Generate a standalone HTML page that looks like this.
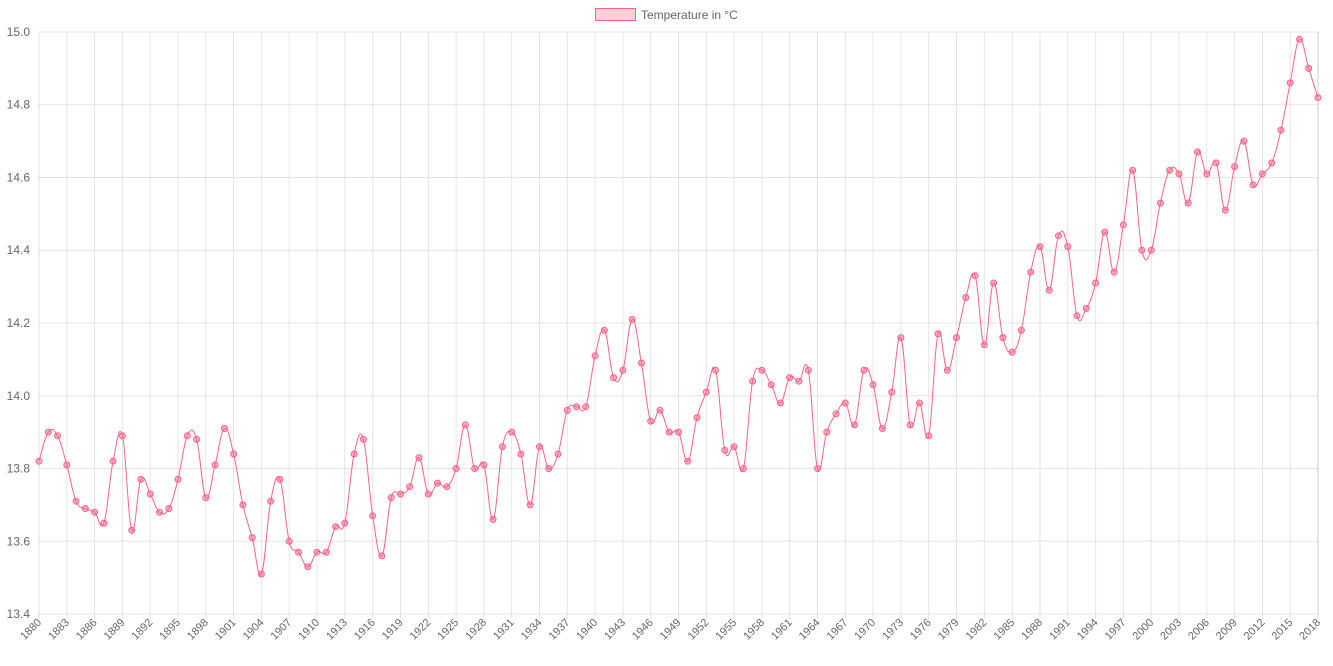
<!DOCTYPE html>
<html><head><meta charset="utf-8"><style>
html,body{margin:0;padding:0;background:#fff;}
svg{display:block;font-family:"Liberation Sans",Arial,sans-serif;}
</style></head><body>
<svg id="c" width="1333" height="666" xmlns="http://www.w3.org/2000/svg"></svg>
<script>
const d=[13.82,13.90,13.89,13.81,13.71,13.69,13.68,13.65,13.82,13.89,13.63,13.77,13.73,13.68,13.69,13.77,13.89,13.88,13.72,13.81,13.91,13.84,13.70,13.61,13.51,13.71,13.77,13.60,13.57,13.53,13.57,13.57,13.64,13.65,13.84,13.88,13.67,13.56,13.72,13.73,13.75,13.83,13.73,13.76,13.75,13.80,13.92,13.80,13.81,13.66,13.86,13.90,13.84,13.70,13.86,13.80,13.84,13.96,13.97,13.97,14.11,14.18,14.05,14.07,14.21,14.09,13.93,13.96,13.90,13.90,13.82,13.94,14.01,14.07,13.85,13.86,13.80,14.04,14.07,14.03,13.98,14.05,14.04,14.07,13.80,13.90,13.95,13.98,13.92,14.07,14.03,13.91,14.01,14.16,13.92,13.98,13.89,14.17,14.07,14.16,14.27,14.33,14.14,14.31,14.16,14.12,14.18,14.34,14.41,14.29,14.44,14.41,14.22,14.24,14.31,14.45,14.34,14.47,14.62,14.40,14.40,14.53,14.62,14.61,14.53,14.67,14.61,14.64,14.51,14.63,14.70,14.58,14.61,14.64,14.73,14.86,14.98,14.90,14.82];
const x0=39,x1=1318,yT=32,yB=614,vMin=13.4,vMax=15.0;
const X=i=>x0+i*(x1-x0)/(d.length-1);
const Y=v=>yB-(v-vMin)/(vMax-vMin)*(yB-yT);
let s='';
for(let k=0;k<=8;k++){const v=13.4+k*0.2,y=Y(v).toFixed(1);
s+=`<line x1="${x0}" x2="${x1}" y1="${y}" y2="${y}" stroke="rgba(0,0,0,0.1)"/>`;
s+=`<text x="${x0-9}" y="${+y+4}" font-size="12" fill="#666" text-anchor="end">${v.toFixed(1)}</text>`;}
for(let i=0;i<d.length;i+=3){const x=X(i).toFixed(1);
s+=`<line x1="${x}" x2="${x}" y1="${yT}" y2="${yB+5}" stroke="rgba(0,0,0,0.1)"/>`;
s+=`<text transform="translate(${+x+3},${yB+9}) rotate(-45)" font-size="11" fill="#666" text-anchor="end">${1880+i}</text>`;}
s+=`<line x1="${x1}" x2="${x1}" y1="${yT}" y2="${yB}" stroke="rgba(0,0,0,0.1)"/>`;
const P=d.map((v,i)=>[X(i),Y(v)]);const t=0.4;
let p=`M${P[0][0]},${P[0][1]}`;
for(let i=0;i<P.length-1;i++){const a=P[Math.max(i-1,0)],b=P[i],c=P[i+1],e=P[Math.min(i+2,P.length-1)];
const c1=[b[0]+(c[0]-a[0])*t/2,b[1]+(c[1]-a[1])*t/2],c2=[c[0]-(e[0]-b[0])*t/2,c[1]-(e[1]-b[1])*t/2];
p+=` C${c1[0].toFixed(1)},${c1[1].toFixed(1)} ${c2[0].toFixed(1)},${c2[1].toFixed(1)} ${c[0].toFixed(1)},${c[1].toFixed(1)}`;}
s+=`<path d="${p}" fill="none" stroke="#ff6384" stroke-width="1"/>`;
P.forEach(q=>{s+=`<circle cx="${q[0].toFixed(1)}" cy="${q[1].toFixed(1)}" r="3" fill="rgba(255,99,132,0.5)" stroke="#ff6384" stroke-width="1"/>`;});
s+=`<rect x="595.5" y="8.5" width="40" height="12" fill="rgba(255,99,132,0.3)" stroke="#ff6384"/>`;
s+=`<text x="641" y="19" font-size="12" fill="#666">Temperature in °C</text>`;
document.getElementById('c').innerHTML=s;
</script>
</body></html>
